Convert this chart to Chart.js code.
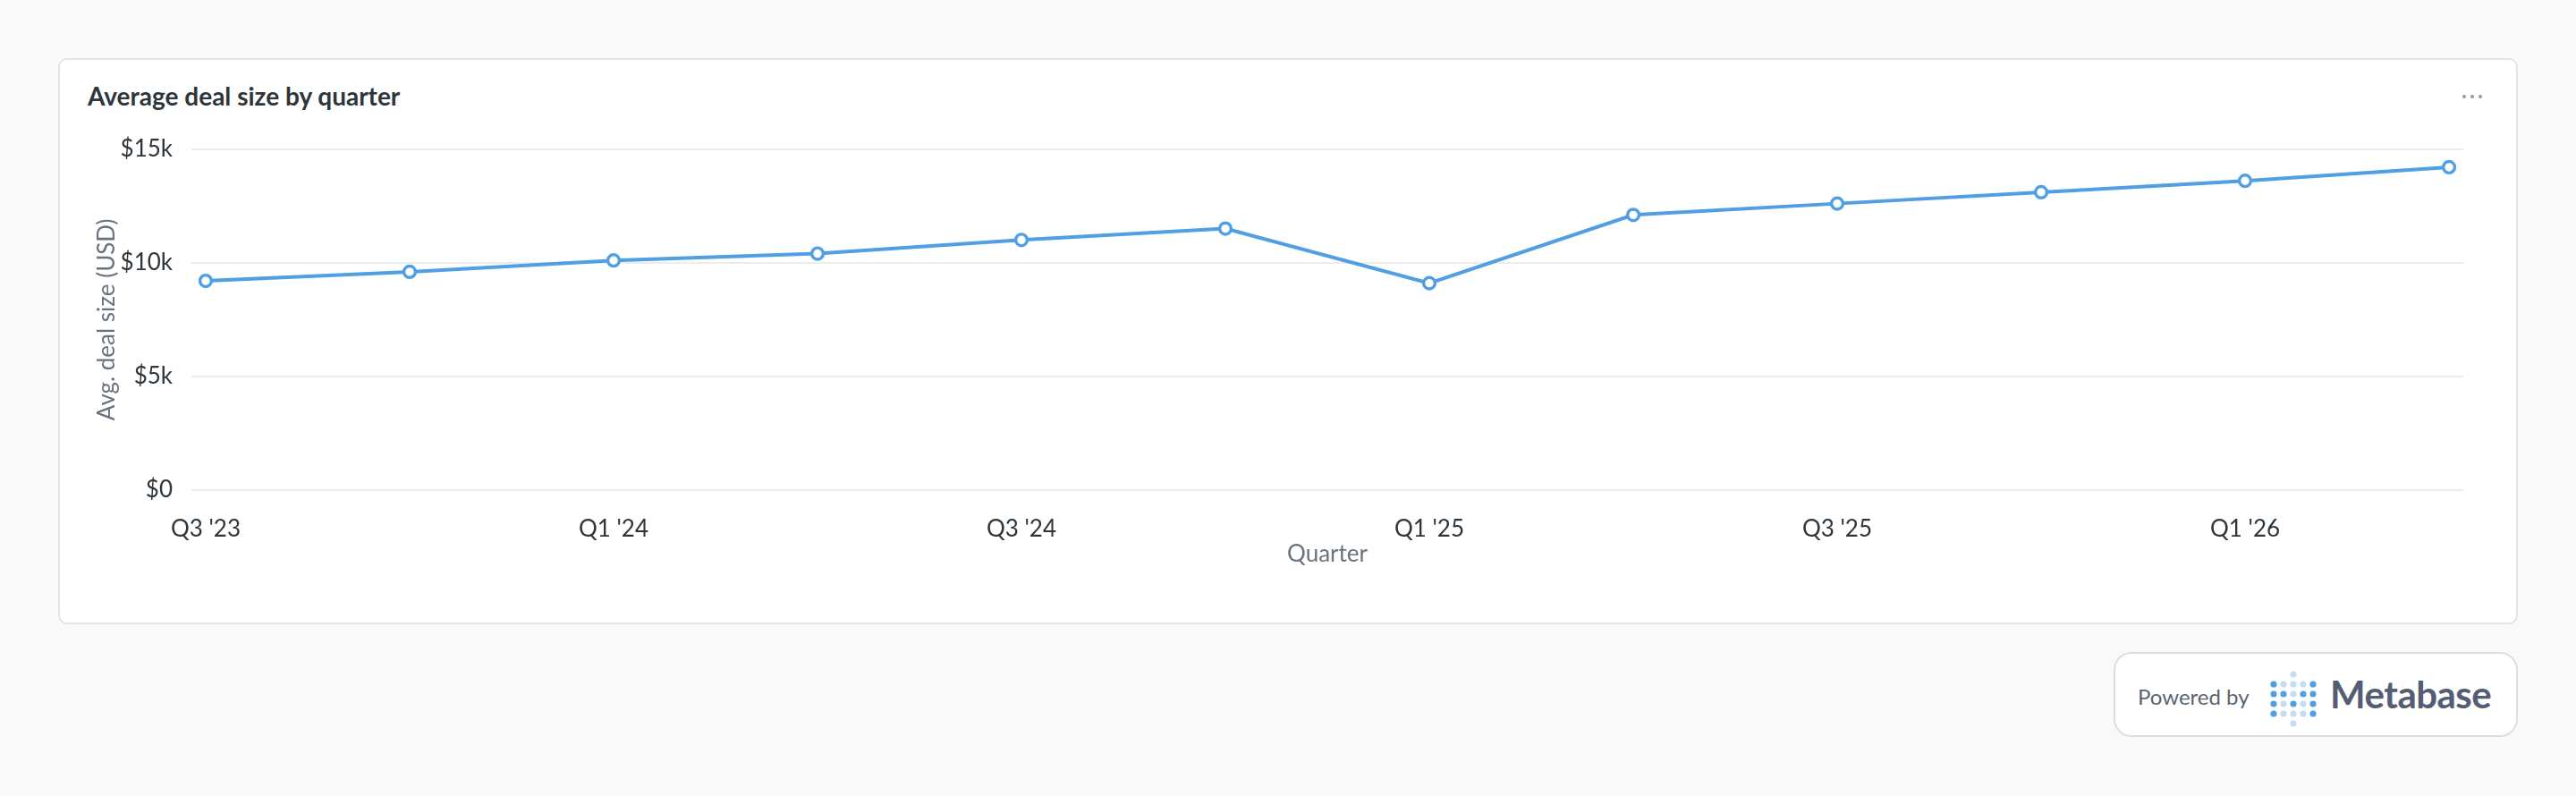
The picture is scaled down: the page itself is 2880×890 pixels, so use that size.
<!DOCTYPE html>
<html>
<head>
<meta charset="utf-8">
<script src="https://cdn.jsdelivr.net/npm/chart.js@4.4.1/dist/chart.umd.min.js"></script>
<style>
  html, body { margin: 0; padding: 0; }
  body { width: 2880px; height: 890px; background: #f9f9f9; font-family: Lato, "Noto Sans", sans-serif; position: relative; overflow: hidden; }
  .card { position: absolute; left: 65px; top: 65px; width: 2746px; height: 629px; background: #fff; border: 2px solid #e4e4e4; border-radius: 10px; }
  .title { position: absolute; left: 31px; top: 23px; font-size: 28px; font-weight: 700; color: #2e353b; }
  .more { position: absolute; right: 38px; top: 39px; display: flex; gap: 5px; }
  .more span { width: 4px; height: 4px; border-radius: 50%; background: #949aab; }
  .wrap { position: absolute; left: -1px; top: 63px; width: 2746px; height: 520px; }
  .badge { position: absolute; left: 2363px; top: 729px; width: 448px; height: 91px; background: #fff; border: 2px solid #dcdfe0; border-radius: 20px; }
  .badge .pw { position: absolute; left: 25px; top: 33px; font-size: 24px; color: #5a6570; }
  .badge .logo { position: absolute; left: 172px; top: 18px; }
  .badge .mb { position: absolute; left: 240px; top: 20px; font-size: 42px; font-weight: 700; color: #545d73; letter-spacing: -0.5px; }
</style>
</head>
<body>
<div class="card">
  <div class="title">Average deal size by quarter</div>
  <div class="more"><span></span><span></span><span></span></div>
  <div class="wrap"><canvas id="deal-chart"></canvas></div>
</div>
<div class="badge">
  <div class="pw">Powered by</div>
  <svg class="logo" width="56" height="64" id="logo"></svg>
  <div class="mb">Metabase</div>
</div>
<script>
var quarters = ["Q3 '23", "Q4 '23", "Q1 '24", "Q2 '24", "Q3 '24", "Q4 '24", "Q1 '25", "Q2 '25", "Q3 '25", "Q4 '25", "Q1 '26", "Q2 '26"];
var avgDealSize = [9200, 9600, 10100, 10400, 11000, 11500, 9100, 12100, 12600, 13100, 13600, 14200];
var xTickIndex = [0, 2, 4, 6, 8, 10];
var yTickLabels = ['$0', '$5k', '$10k', '$15k'];

// metabase logo dots, 1 = dark, 0 = light, -1 = none
var logoDots = [
    [-1, -1, 0, -1, -1],
    [1, 0, 0, 0, 1],
    [1, 1, 0, 1, 1],
    [1, 0, 1, 0, 1],
    [1, 0, 0, 0, 1],
    [-1, -1, 0, -1, -1]
];
var svg = document.getElementById('logo');
var dots = '';
logoDots.forEach(function (row, r) {
    row.forEach(function (d, c) {
        if (d < 0) return;
        dots += '<circle cx="' + (5 + c * 11) + '" cy="' + (5 + r * 11) + '" r="3.6" fill="' + (d ? '#509ee3' : '#c5dcf3') + '"/>';
    });
});
svg.innerHTML = dots;

var tickFont = { family: 'Lato', size: 26 };
var ctx = document.getElementById('deal-chart').getContext('2d');
var chart = new Chart(ctx, {
    type: 'line',
    data: {
        datasets: [{
            label: 'Avg. deal size (USD)',
            data: avgDealSize.map(function (v, i) { return { x: i, y: v }; }),
            borderColor: '#509ee3',
            borderWidth: 4,
            pointRadius: 6.4,
            pointBorderWidth: 3.4,
            pointBackgroundColor: '#ffffff',
            pointBorderColor: '#509ee3',
            tension: 0
        }]
    },
    options: {
        responsive: true,
        maintainAspectRatio: false,
        animation: false,
        layout: { padding: { top: 34, right: 58, left: 0, bottom: 0 } },
        plugins: { legend: { display: false }, tooltip: { enabled: false } },
        scales: {
            x: {
                type: 'linear',
                min: -0.07,
                max: 11.07,
                grid: { display: false },
                border: { display: false },
                afterBuildTicks: function (scale) {
                    scale.ticks = xTickIndex.map(function (v) { return { value: v }; });
                },
                afterFit: function (scale) { scale.height = 102; },
                ticks: {
                    autoSkip: false,
                    maxRotation: 0,
                    padding: 20,
                    color: '#2e353b',
                    font: tickFont,
                    callback: function (v) { return quarters[v]; }
                },
                title: {
                    display: true,
                    text: 'Quarter',
                    color: '#69737d',
                    font: { family: 'Lato', size: 26 },
                    padding: { top: 0, bottom: 15 }
                }
            },
            y: {
                min: 0,
                max: 15000,
                border: { display: false },
                grid: { color: '#ececec', lineWidth: 2, drawTicks: false },
                afterFit: function (scale) { scale.width = 148; },
                ticks: {
                    stepSize: 5000,
                    padding: 21,
                    color: '#2e353b',
                    font: tickFont,
                    callback: function (v, i) { return yTickLabels[i]; }
                },
                title: {
                    display: true,
                    text: 'Avg. deal size (USD)',
                    color: '#69737d',
                    font: { family: 'Lato', size: 26 },
                    padding: { top: 38, bottom: 0 }
                }
            }
        }
    }
});
</script>
</body>
</html>
